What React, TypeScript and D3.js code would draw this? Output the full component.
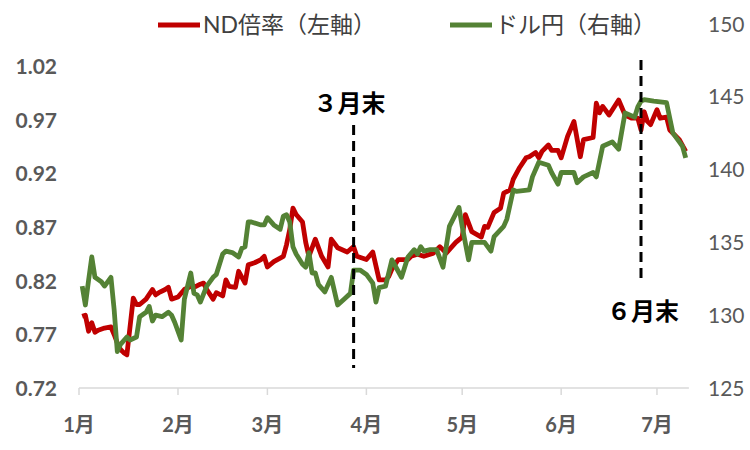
import React from "react";
import * as d3 from "d3";

const redDates = ["01-02","01-03","01-04","01-05","01-06","01-07","01-09","01-11","01-12","01-13","01-14","01-15","01-16","01-18","01-19","01-20","01-22","01-24","01-25","01-26","01-28","01-29","01-30","02-01","02-03","02-05","02-06","02-08","02-09","02-10","02-12","02-13","02-15","02-16","02-17","02-19","02-20","02-22","02-23","02-25","02-27","02-28","03-01","03-03","03-06","03-07","03-08","03-09","03-10","03-12","03-13","03-14","03-16","03-18","03-20","03-21","03-23","03-26","03-28","03-29","04-01","04-03","04-05","04-07","04-08","04-09","04-11","04-14","04-15","04-17","04-19","04-22","04-24","04-26","04-29","05-01","05-02","05-04","05-07","05-08","05-09","05-11","05-13","05-14","05-16","05-17","05-19","05-21","05-22","05-24","05-25","05-26","05-28","05-29","05-31","06-01","06-03","06-05","06-07","06-08","06-11","06-12","06-13","06-14","06-16","06-19","06-21","06-23","06-25","06-26","06-27","06-28","06-29","06-30","07-01","07-02","07-04","07-05","07-08","07-10"];
const redValues = [0.787,0.788,0.773,0.781,0.772,0.774,0.776,0.777,0.770,0.762,
  0.756,0.753,0.751,0.804,0.798,0.798,0.803,0.812,0.807,0.809,
  0.812,0.814,0.803,0.805,0.812,0.815,0.814,0.817,0.818,0.812,
  0.803,0.809,0.806,0.821,0.815,0.814,0.829,0.818,0.835,0.837,
  0.840,0.843,0.833,0.838,0.843,0.854,0.868,0.888,0.882,0.875,
  0.856,0.843,0.859,0.843,0.833,0.859,0.851,0.847,0.852,0.843,
  0.840,0.847,0.821,0.821,0.824,0.831,0.840,0.840,0.843,0.845,
  0.843,0.846,0.852,0.846,0.856,0.861,0.882,0.866,0.861,0.871,
  0.870,0.884,0.888,0.902,0.905,0.915,0.926,0.935,0.936,0.940,
  0.935,0.941,0.947,0.942,0.942,0.935,0.955,0.969,0.936,0.952,
  0.954,0.986,0.977,0.983,0.975,0.989,0.975,0.972,0.972,0.961,
  0.978,0.969,0.966,0.973,0.980,0.972,0.973,0.961,0.952,0.941];

const greenDates = ["01-02","01-03","01-04","01-05","01-06","01-08","01-09","01-11","01-12","01-13",
  "01-14","01-16","01-17","01-19","01-20","01-22","01-23","01-24","01-25","01-27",
  "01-29","01-30","01-31","02-02","02-03","02-05","02-06","02-07","02-08","02-10",
  "02-12","02-13","02-15","02-16","02-18","02-20","02-21","02-22","02-23","02-24",
  "02-27","02-28","03-01","03-03","03-05","03-06","03-07","03-08","03-09","03-10",
  "03-12","03-13","03-14","03-15","03-16","03-17","03-19","03-21","03-23","03-25",
  "03-27","03-28","03-30","04-01","04-03","04-04","04-05","04-07","04-09","04-11",
  "04-12","04-14","04-16","04-17","04-18","04-19","04-21","04-23","04-25","04-27",
  "04-30","05-01","05-03","05-04","05-08","05-10","05-11","05-14","05-15","05-17",
  "05-18","05-22","05-23","05-25","05-28","05-29","05-31","06-01","06-05","06-06",
  "06-08","06-11","06-12","06-14","06-17","06-19","06-21","06-24","06-25","06-26",
  "06-27","06-30","07-04","07-06","07-08","07-09","07-10"];
const greenValues = [132.0,130.7,132.4,134.0,132.6,132.3,132.0,132.6,130.4,127.5,
  128.0,128.5,128.3,128.5,129.9,130.2,130.6,129.6,130.0,129.9,
  130.2,130.0,129.5,128.3,131.1,132.9,131.5,131.4,130.9,132.0,
  132.6,132.8,134.2,134.4,134.3,134.0,134.6,134.7,136.4,136.4,
  136.2,136.2,136.7,136.2,135.9,136.8,136.9,136.4,134.7,134.2,
  133.5,133.3,134.3,132.9,132.9,132.1,131.6,132.6,130.7,131.1,
  131.5,133.1,133.1,132.8,132.2,130.9,131.9,132.0,133.8,133.0,
  132.6,134.0,134.5,134.2,134.7,134.4,134.5,134.5,133.3,136.1,
  137.4,136.1,133.8,135.0,135.0,134.4,135.4,136.1,136.6,138.6,
  138.5,138.6,139.5,140.5,140.3,139.8,139.0,139.8,139.8,139.1,
  139.5,139.8,139.5,141.6,141.9,141.4,143.9,143.6,144.3,144.7,
  144.8,144.7,144.6,142.5,141.9,141.6,140.8];

const leftTicks = [0.72, 0.77, 0.82, 0.87, 0.92, 0.97, 1.02];
const rightTicks = [125, 130, 135, 140, 145, 150];
const monthTicks = ["01-01","02-01","03-01","04-01","05-01","06-01","07-01"];
const monthLabels = ["1月","2月","3月","4月","5月","6月","7月"];
const markerDates = ["03-28", "06-26"];
const markerLabels = ["３月末", "６月末"];
const seriesNames = ["ND倍率（左軸）", "ドル円（右軸）"];

const YEAR = "2023-";
const parse = d3.timeParse("%Y-%m-%d");
const pd = (s: string) => parse(YEAR + s) as Date;

const RED = "#C00000";
const GREEN = "#548235";
const AXIS_GREY = "#595959";
const NUM_FONT = "Lato, 'Noto Sans CJK JP', sans-serif";
const JP_FONT = "'Noto Sans CJK JP', sans-serif";

export default function App() {
  const W = 750, H = 450;
  const x0 = 79, x1 = 688.9, yTop = 24, yBot = 388;
  const x = d3.scaleTime().domain([pd("01-01"), pd("07-11")]).range([x0, x1]);
  const yL = d3.scaleLinear().domain([0.72, 1.06]).range([yBot, yTop]);
  const yR = d3.scaleLinear().domain([125, 150]).range([yBot, yTop]);

  const red = redDates.map((d, i) => ({ d: pd(d), v: redValues[i] }));
  const green = greenDates.map((d, i) => ({ d: pd(d), v: greenValues[i] }));

  const redLine = d3.line<{ d: Date; v: number }>().x(p => x(p.d)).y(p => yL(p.v));
  const greenLine = d3.line<{ d: Date; v: number }>().x(p => x(p.d)).y(p => yR(p.v));

  const markerSpans = [
    { y1: 125, y2: 368, ly: 112, dx: -4 },
    { y1: 60, y2: 282, ly: 320, dx: 2 },
  ];

  return (
    <svg width={W} height={H} style={{ position: "absolute", left: 0, top: 0, background: "#fff" }}>
      <rect width={W} height={H} fill="#fff" />
      {/* x axis */}
      <line x1={x0} x2={x1} y1={yBot} y2={yBot} stroke="#d9d9d9" strokeWidth={1.5} />
      {monthTicks.map((m, i) => (
        <g key={m}>
          <line x1={x(pd(m))} x2={x(pd(m))} y1={yBot} y2={yBot + 7} stroke="#d9d9d9" strokeWidth={1.5} />
          <text x={x(pd(m))} y={432} textAnchor="middle" fontFamily={NUM_FONT} fontWeight={700} fontSize={20} fill={AXIS_GREY}>
            {monthLabels[i]}
          </text>
        </g>
      ))}
      {/* left axis labels */}
      {leftTicks.map(t => (
        <text key={t} x={57} y={yL(t)} dy="0.36em" textAnchor="end" fontFamily={NUM_FONT} fontWeight={700} fontSize={21} fill={AXIS_GREY}>
          {t.toFixed(2)}
        </text>
      ))}
      {/* right axis labels */}
      {rightTicks.map(t => (
        <text key={t} x={708} y={yR(t)} dy="0.36em" textAnchor="start" fontFamily={NUM_FONT} fontWeight={400} fontSize={21} fill={AXIS_GREY}>
          {t}
        </text>
      ))}
      {/* series */}
      <path d={redLine(red) || ""} fill="none" stroke={RED} strokeWidth={4.8} strokeLinejoin="round" />
      <path d={greenLine(green) || ""} fill="none" stroke={GREEN} strokeWidth={4.8} strokeLinejoin="round" />
      {/* markers */}
      {markerDates.map((m, i) => (
        <g key={m}>
          <line x1={x(pd(m))} x2={x(pd(m))} y1={markerSpans[i].y1} y2={markerSpans[i].y2} stroke="#000" strokeWidth={3} strokeDasharray="10 6" />
          <text x={x(pd(m)) + markerSpans[i].dx} y={markerSpans[i].ly} textAnchor="middle" fontFamily={JP_FONT} fontWeight={600} fontSize={24} fill="#000">
            {markerLabels[i]}
          </text>
        </g>
      ))}
      {/* legend */}
      <line x1={158} x2={200} y1={25} y2={25} stroke={RED} strokeWidth={5} />
      <text x={203} y={33} fontFamily={NUM_FONT} fontSize={23} fill="#404040">{seriesNames[0]}</text>
      <line x1={450} x2={492} y1={25} y2={25} stroke={GREEN} strokeWidth={5} />
      <text x={495} y={33} fontFamily={JP_FONT} fontSize={23} fill="#404040">{seriesNames[1]}</text>
    </svg>
  );
}
